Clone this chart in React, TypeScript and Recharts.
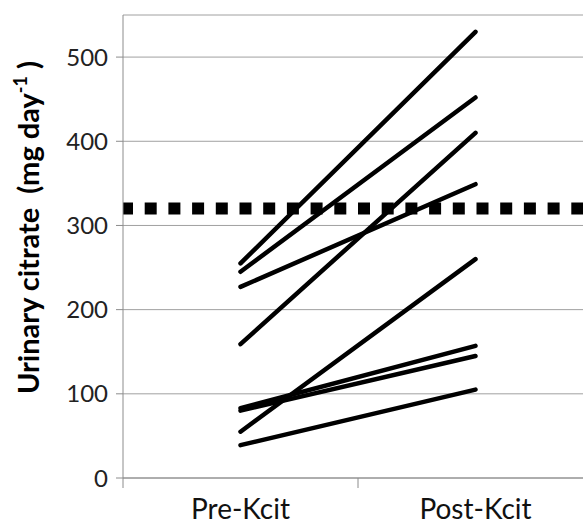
import { LineChart, Line, XAxis, YAxis, CartesianGrid, ReferenceLine, Label } from 'recharts';

// Urinary citrate per subject, before and after potassium citrate
const categories = ['Pre-Kcit', 'Post-Kcit'];
const preKcit = [255, 245, 227, 159, 83, 80, 55, 39];
const postKcit = [530, 452, 349, 410, 157, 145, 260, 105];
const yTicks = [0, 100, 200, 300, 400, 500];
const xTicks = [0, 0.5, 1, 1.5, 2];
const normalCitrate = 320;

const FONT = 'Lato, "Open Sans", sans-serif';

const chartData = categories.map((name, i) => {
  const row: Record<string, number | string> = { x: i + 0.5, name };
  preKcit.forEach((pre, s) => {
    row[`s${s}`] = i === 0 ? pre : postKcit[s];
  });
  return row;
});

// integer ticks are the category boundaries (tick marks), halves carry the names
const CategoryTick = ({ x, y, payload }: any) => {
  const v = payload.value;
  if (Number.isInteger(v)) {
    return <line x1={x} x2={x} y1={y} y2={y + 10} stroke="#8c8c8c" strokeWidth={1} />;
  }
  return (
    <text x={x} y={y + 41} textAnchor="middle" fontSize={28} fontFamily={FONT} fill="#111">
      {categories[Math.floor(v)]}
    </text>
  );
};

const YTitle = ({ viewBox }: any) => {
  const cx = viewBox.x + 39;
  const cy = viewBox.y + viewBox.height / 2 - 19;
  return (
    <text
      x={cx}
      y={cy}
      transform={`rotate(-90 ${cx} ${cy})`}
      textAnchor="middle"
      fontSize={29}
      fontWeight={700}
      fontFamily={FONT}
      fill="#000"
      style={{ whiteSpace: 'pre' }}
    >
      {'Urinary citrate  (mg day'}
      <tspan dy={-12} fontSize={18}>-1</tspan>
      <tspan dy={12}>{' )'}</tspan>
    </text>
  );
};

export default function App() {
  return (
    <div style={{ position: 'absolute', left: 0, top: 0, width: 583, height: 526, overflow: 'hidden', background: '#fff' }}>
      <LineChart width={600} height={526} data={chartData} margin={{ top: 15, right: 7, left: 0, bottom: 0 }}>
        <CartesianGrid vertical={false} stroke="#a0a0a0" strokeWidth={1} />
        <XAxis
          dataKey="x"
          type="number"
          domain={[0, 2]}
          ticks={xTicks}
          interval={0}
          height={48}
          tickSize={0}
          tickMargin={0}
          tickLine={false}
          axisLine={{ stroke: '#8c8c8c', strokeWidth: 1 }}
          tick={<CategoryTick />}
        />
        <YAxis
          type="number"
          domain={[0, 550]}
          ticks={yTicks}
          interval={0}
          width={123}
          tickSize={7}
          tickMargin={8}
          tickLine={{ stroke: '#8c8c8c' }}
          axisLine={{ stroke: '#8c8c8c', strokeWidth: 1 }}
          tick={{ fontSize: 24, fontFamily: FONT, fill: '#222' }}
        >
          <Label content={<YTitle />} />
        </YAxis>
        <ReferenceLine
          y={normalCitrate}
          stroke="#000"
          strokeWidth={12}
          strokeDasharray="12 11.7"
          strokeDashoffset={2}
        />
        {preKcit.map((_, s) => (
          <Line
            key={s}
            dataKey={`s${s}`}
            type="linear"
            stroke="#000"
            strokeWidth={4.5}
            strokeLinecap="round"
            dot={false}
            activeDot={false}
            isAnimationActive={false}
          />
        ))}
      </LineChart>
    </div>
  );
}
